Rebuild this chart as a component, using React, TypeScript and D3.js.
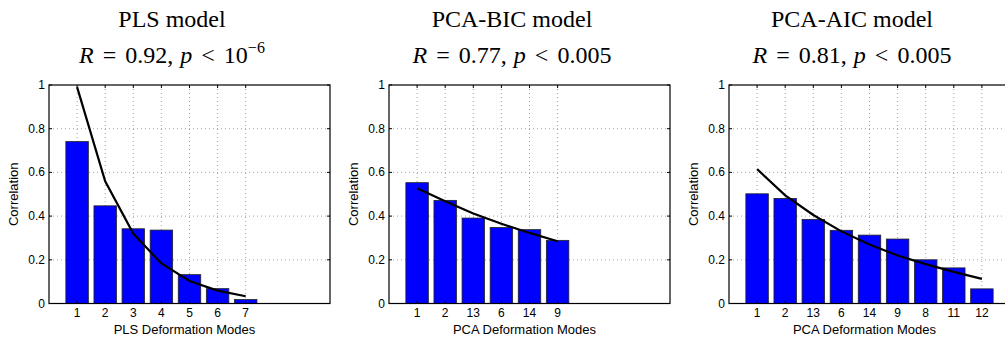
import React from "react";
import * as d3 from "d3";

// ---- data ----
const plsModes = ["1", "2", "3", "4", "5", "6", "7"];
const plsBars = [0.741, 0.447, 0.342, 0.336, 0.132, 0.068, 0.018];
const plsFit = [0.99, 0.559, 0.32, 0.183, 0.103, 0.059, 0.033];

const bicModes = ["1", "2", "13", "6", "14", "9"];
const bicBars = [0.553, 0.472, 0.391, 0.348, 0.338, 0.289];
const bicFit = [0.528, 0.468, 0.412, 0.365, 0.323, 0.285];

const aicModes = ["1", "2", "13", "6", "14", "9", "8", "11", "12"];
const aicBars = [0.502, 0.481, 0.385, 0.335, 0.313, 0.295, 0.2, 0.163, 0.067];
const aicFit = [0.615, 0.495, 0.405, 0.33, 0.27, 0.22, 0.18, 0.145, 0.113];

const yTicks = [0, 0.2, 0.4, 0.6, 0.8, 1];
const yTickLabels = ["0", "0.2", "0.4", "0.6", "0.8", "1"];

type Panel = {
  title: string;
  r: string;
  p: string;
  pSup?: string;
  xLabel: string;
  modes: string[];
  bars: number[];
  fit: number[];
};

const panels: Panel[] = [
  { title: "PLS model", r: "0.92", p: "10", pSup: "\u22126", xLabel: "PLS Deformation Modes", modes: plsModes, bars: plsBars, fit: plsFit },
  { title: "PCA-BIC model", r: "0.77", p: "0.005", xLabel: "PCA Deformation Modes", modes: bicModes, bars: bicBars, fit: bicFit },
  { title: "PCA-AIC model", r: "0.81", p: "0.005", xLabel: "PCA Deformation Modes", modes: aicModes, bars: aicBars, fit: aicFit },
];

const W = 1005;
const H = 338;
const PANEL_X0 = 49;
const PANEL_STEP = 340;
const PANEL_W = 281;
const TOP = 85;
const BOTTOM = 303.5;
const SANS = "'Liberation Sans', Arial, Helvetica, sans-serif";
const SERIF = "'Liberation Serif', 'Times New Roman', serif";

function PanelView({ panel, x0 }: { panel: Panel; x0: number }) {
  const x = d3.scaleLinear().domain([0, 10]).range([x0, x0 + PANEL_W]);
  const y = d3.scaleLinear().domain([0, 1]).range([BOTTOM, TOP]);
  const bw = x(0.8) - x(0);
  const line = d3
    .line<number>()
    .x((_, i) => x(i + 1))
    .y((d) => y(d));
  const idx = panel.modes.map((_, i) => i + 1);
  const tickLen = 3;
  const cx = x0 + 123;
  const gap = 3;
  return (
    <g>
      {/* titles */}
      <text x={cx} y={27} textAnchor="middle" fontFamily={SERIF} fontSize={24}>
        {panel.title}
      </text>
      <text x={cx} y={63} textAnchor="middle" fontFamily={SERIF} fontSize={24}>
        <tspan fontStyle="italic">R</tspan>
        <tspan dx={gap}>{" ="}</tspan>
        <tspan dx={gap}>{" " + panel.r + ","}</tspan>
        <tspan dx={1} fontStyle="italic">{" p"}</tspan>
        <tspan dx={gap}>{" <"}</tspan>
        <tspan dx={gap}>{" " + panel.p}</tspan>
        {panel.pSup ? (
          <tspan dy={-10} fontSize={16}>
            {panel.pSup}
          </tspan>
        ) : null}
      </text>

      {/* grid */}
      {idx.map((i) => (
        <line key={"gx" + i} x1={x(i)} x2={x(i)} y1={TOP} y2={BOTTOM} stroke="#666" strokeWidth={0.6} strokeDasharray="1 3" />
      ))}
      {yTicks.slice(1, -1).map((t) => (
        <line key={"gy" + t} x1={x0} x2={x0 + PANEL_W} y1={y(t)} y2={y(t)} stroke="#666" strokeWidth={0.6} strokeDasharray="1 3" />
      ))}

      {/* bars */}
      {panel.bars.map((v, i) => (
        <rect
          key={"b" + i}
          x={x(i + 1) - bw / 2}
          y={y(v)}
          width={bw}
          height={y(0) - y(v)}
          fill="#0000ff"
          stroke="#222"
          strokeWidth={0.8}
        />
      ))}

      {/* fit line */}
      <path d={line(panel.fit) || ""} fill="none" stroke="#000" strokeWidth={2.2} />

      {/* box */}
      <rect x={x0} y={TOP} width={PANEL_W} height={BOTTOM - TOP} fill="none" stroke="#000" strokeWidth={1.2} />

      {/* ticks */}
      {idx.map((i) => (
        <g key={"tx" + i}>
          <line x1={x(i)} x2={x(i)} y1={BOTTOM} y2={BOTTOM - tickLen} stroke="#000" />
          <line x1={x(i)} x2={x(i)} y1={TOP} y2={TOP + tickLen} stroke="#000" />
          <text x={x(i)} y={317} textAnchor="middle" fontFamily={SANS} fontSize={12}>
            {panel.modes[i - 1]}
          </text>
        </g>
      ))}
      {yTicks.map((t, k) => (
        <g key={"ty" + t}>
          <line x1={x0} x2={x0 + tickLen} y1={y(t)} y2={y(t)} stroke="#000" />
          <line x1={x0 + PANEL_W} x2={x0 + PANEL_W - tickLen} y1={y(t)} y2={y(t)} stroke="#000" />
          <text x={x0 - 4} y={y(t) + 4} textAnchor="end" fontFamily={SANS} fontSize={12}>
            {yTickLabels[k]}
          </text>
        </g>
      ))}

      {/* axis labels */}
      <text x={x0 + PANEL_W / 2 - 5} y={334} textAnchor="middle" fontFamily={SANS} fontSize={13}>
        {panel.xLabel}
      </text>
      <text
        transform={`translate(${x0 - 31},${(TOP + BOTTOM) / 2}) rotate(-90)`}
        textAnchor="middle"
        fontFamily={SANS}
        fontSize={13}
      >
        Correlation
      </text>
    </g>
  );
}

export default function App() {
  return (
    <div style={{ position: "fixed", left: 0, top: 0, width: W, height: H, background: "#fff" }}>
      <svg width={W} height={H} viewBox={`0 0 ${W} ${H}`} style={{ display: "block" }}>
        <rect width={W} height={H} fill="#fff" />
        {panels.map((p, i) => (
          <PanelView key={i} panel={p} x0={PANEL_X0 + i * PANEL_STEP} />
        ))}
      </svg>
    </div>
  );
}
